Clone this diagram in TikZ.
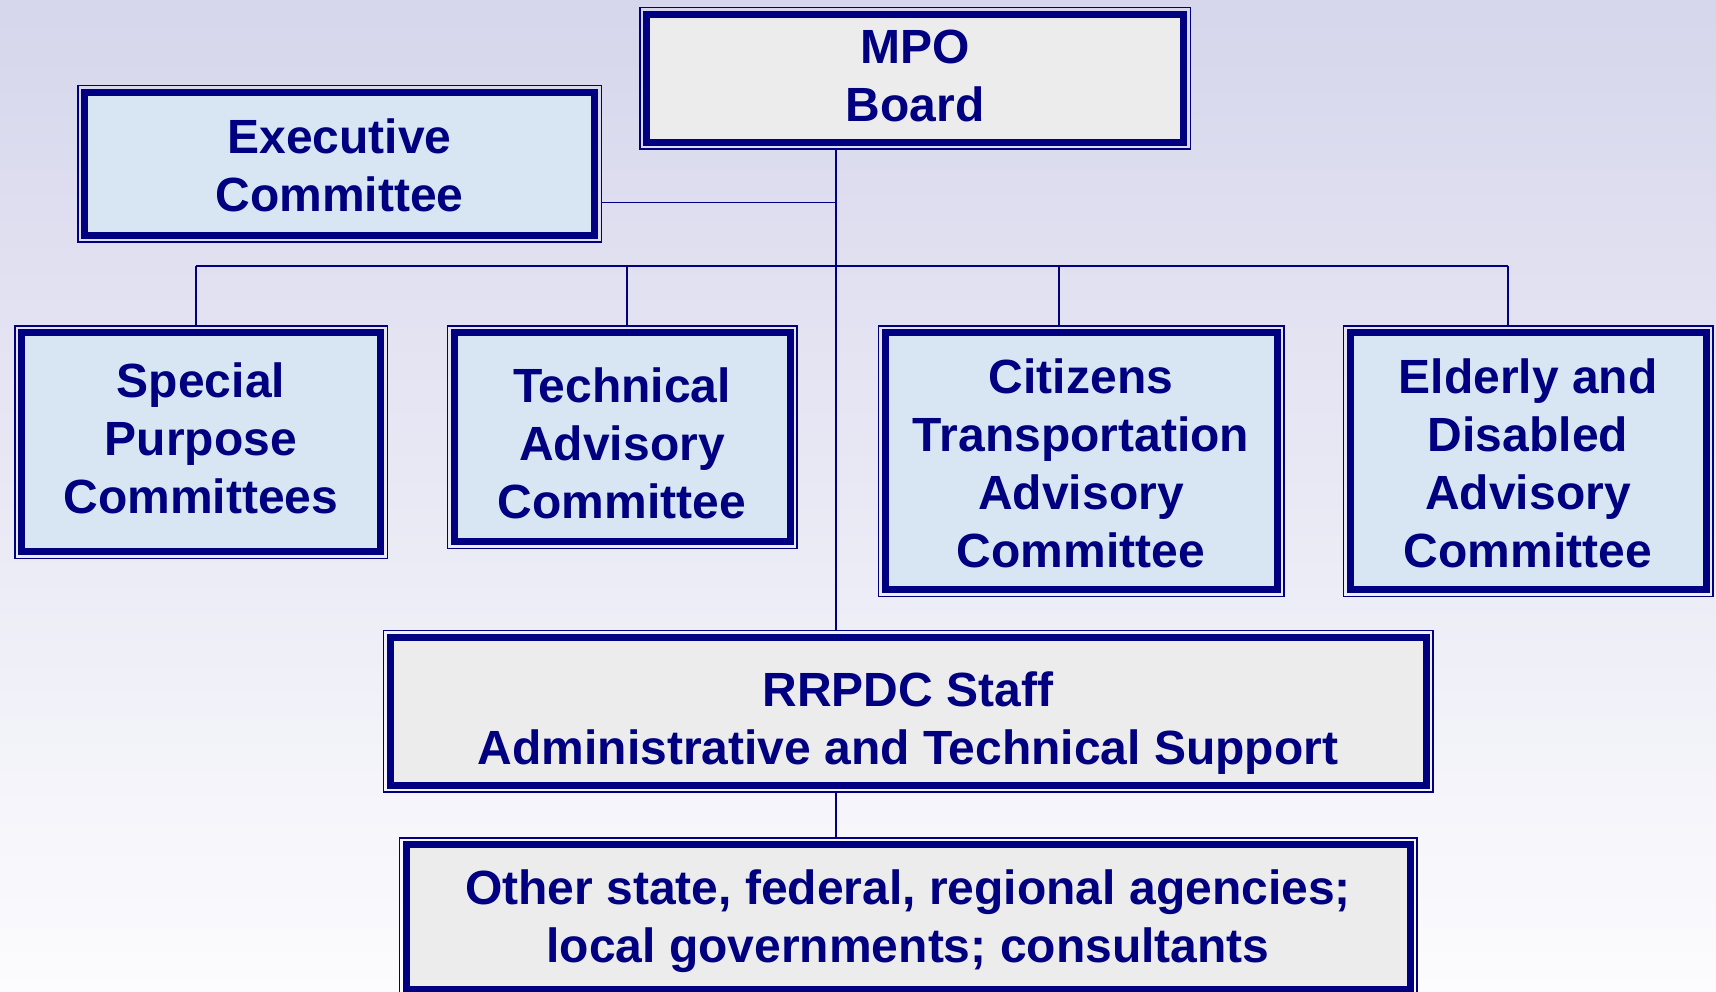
\documentclass[tikz,border=0pt]{standalone}
\usepackage{fontspec}
\setmainfont{Liberation Sans}
\definecolor{navy}{RGB}{0,0,128}
\definecolor{bgtop}{RGB}{214,214,236}
\definecolor{bgmid}{RGB}{236,236,245}
\definecolor{bgbot}{RGB}{252,252,254}
\definecolor{grayfill}{RGB}{236,236,236}
\definecolor{bluefill}{RGB}{216,230,244}
\begin{document}
\begin{tikzpicture}[x=1pt,y=-1pt,
  box/.style={draw=navy, line width=7pt, outer sep=7.5pt, inner sep=0pt},
  boxtext/.style={inner sep=0pt, outer sep=0pt, align=center, text=navy,
    font=\fontsize{48}{58}\selectfont\bfseries},
  graybox/.style={box, fill=grayfill},
  bluebox/.style={box, fill=bluefill},
  rim/.style={draw=navy, line width=1.5pt},
  conn/.style={draw=navy, line width=1.6pt}]
\useasboundingbox (0,0) rectangle (1716,992);
\clip (0,0) rectangle (1716,992);
\shade[top color=bgtop, middle color=bgmid, bottom color=bgbot] (0,0) rectangle (1716,992);

\node[graybox, minimum width=537pt, minimum height=128pt,
  label={[boxtext, yshift=3pt]center:{MPO\\Board}}] (mpo) at (915,78.5) {};
\node[bluebox, minimum width=510pt, minimum height=143pt,
  label={[boxtext, yshift=-1pt]center:{Executive\\Committee}}] (exec) at (339.5,164) {};
\node[bluebox, minimum width=359pt, minimum height=219pt,
  label={[boxtext, yshift=4pt]center:{Special\\Purpose\\Committees}}] (sp) at (201,442) {};
\node[bluebox, minimum width=336pt, minimum height=209pt,
  label={[boxtext, yshift=-6.5pt]center:{Technical\\Advisory\\Committee}}] (tac) at (622,437) {};
\node[bluebox, minimum width=392pt, minimum height=257pt,
  label={[boxtext, yshift=-2pt]center:{Citizens\\Transportation\\Advisory\\Committee}}] (ctac) at (1081,461) {};
\node[bluebox, minimum width=356pt, minimum height=257pt,
  label={[boxtext, yshift=-2pt]center:{Elderly and\\Disabled\\Advisory\\Committee}}] (edac) at (1528,461) {};
\node[graybox, minimum width=1036pt, minimum height=148pt,
  label={[boxtext, yshift=-12.5pt]center:{RRPDC Staff\\Administrative and Technical Support}}] (rr) at (908,711) {};
\node[graybox, minimum width=1004pt, minimum height=145pt,
  label={[boxtext, yshift=-4pt]center:{Other state, federal, regional agencies;\\local governments; consultants}}] (oth) at (908,917) {};

\foreach \n in {mpo,exec,sp,tac,ctac,edac,rr,oth}
  \draw[rim] ([shift={(0.75pt,-0.75pt)}]\n.north west) rectangle ([shift={(-0.75pt,0.75pt)}]\n.south east);

\coordinate (tx) at (836,0);
\coordinate (ej) at (836,202.5);
\coordinate (busL) at (196,266);
\coordinate (busR) at (1508,266);
\coordinate (d2) at (627,266);
\coordinate (d3) at (1059,266);

\draw[conn] (mpo.south -| tx) -- (rr.north -| tx);
\draw[conn] (exec.east |- ej) -- (ej);
\draw[conn] (busL) -- (busR);
\draw[conn] (busL) -- (sp.north -| busL);
\draw[conn] (d2) -- (tac.north -| d2);
\draw[conn] (d3) -- (ctac.north -| d3);
\draw[conn] (busR) -- (edac.north -| busR);
\draw[conn] (rr.south -| tx) -- (oth.north -| tx);
\end{tikzpicture}
\end{document}
